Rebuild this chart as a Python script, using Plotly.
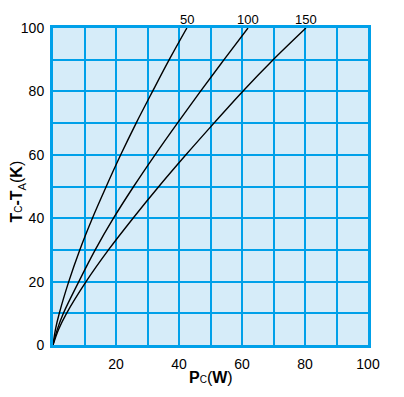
import plotly.graph_objects as go

# Data (Pc in W, Tc-Ta in K) for each curve label
curve_labels = ["50", "100", "150"]
temp_rise = [0, 5, 10, 20, 30, 40, 50, 60, 70, 80, 90, 100]
pc_50 = [0, 0.8, 2.0, 5.0, 8.5, 12.5, 16.9, 21.5, 26.4, 31.6, 36.9, 42.5]
pc_100 = [0, 1.4, 3.3, 8.2, 13.4, 19.2, 25.6, 32.4, 39.5, 46.8, 54.3, 61.9]
pc_150 = [0, 1.8, 4.3, 10.5, 17.6, 25.4, 33.6, 42.2, 51.1, 60.2, 69.9, 80.3]

x_tickvals = [0, 10, 20, 30, 40, 50, 60, 70, 80, 90, 100]
x_ticktext = ["", "", "20", "", "40", "", "60", "", "80", "", "100"]
y_tickvals = [0, 10, 20, 30, 40, 50, 60, 70, 80, 90, 100]
y_ticktext = ["0", "", "20", "", "40", "", "60", "", "80", "", "100"]

GRID = "rgb(0,160,233)"
BG = "rgb(214,236,249)"
FONT = "Liberation Sans, Arial, sans-serif"

fig = go.Figure()
series = [pc_50, pc_100, pc_150]
for lab, xs in zip(curve_labels, series):
    fig.add_trace(go.Scatter(x=xs, y=temp_rise, mode="lines",
                             line=dict(color="black", width=1.4, shape="spline"),
                             name=lab, showlegend=False, hoverinfo="skip"))
    fig.add_annotation(x=xs[-1], y=temp_rise[-1], xref="x", yref="y",
                       text=lab, showarrow=False, yanchor="bottom",
                       xanchor="center", yshift=-1,
                       font=dict(family=FONT, size=13, color="black"))

fig.add_annotation(x=0.5, y=-0.104, xref="paper", yref="paper",
                   text="<b>P</b><span style='font-size:10px'>C</span>(<b>W</b>)",
                   showarrow=False, xanchor="center", yanchor="middle",
                   font=dict(family=FONT, size=16, color="black"))
fig.add_annotation(x=-0.111, y=0.484, xref="paper", yref="paper",
                   text="<b>T</b><span style='font-size:10px'>C</span><b>-T</b><sub>A</sub>(<b>K</b>)",
                   showarrow=False, textangle=-90, xanchor="center", yanchor="middle",
                   font=dict(family=FONT, size=16, color="black"))

axis_common = dict(showgrid=True, gridcolor=GRID, gridwidth=2,
                   showline=True, linecolor=GRID, linewidth=3, mirror=True,
                   zeroline=False, ticks="", range=[0, 100],
                   tickfont=dict(family=FONT, size=14, color="black"))
fig.update_xaxes(tickvals=x_tickvals, ticktext=x_ticktext, ticklabelstandoff=4, **axis_common)
fig.update_yaxes(tickvals=y_tickvals, ticktext=y_ticktext, ticklabelstandoff=3, **axis_common)

fig.update_layout(width=404, height=397,
                  margin=dict(l=53, r=36, t=28, b=52),
                  plot_bgcolor=BG, paper_bgcolor="white")

fig.write_html("out.html", config={"displayModeBar": False},
               post_script="document.body.style.margin='0';")
